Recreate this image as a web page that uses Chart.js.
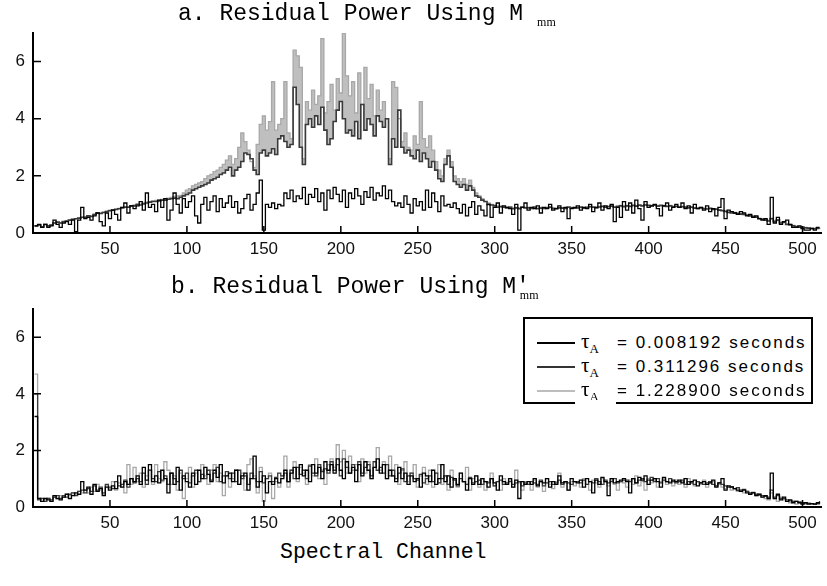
<!DOCTYPE html>
<html>
<head>
<meta charset="utf-8">
<script src="https://cdn.jsdelivr.net/npm/chart.js@4.4.1/dist/chart.umd.min.js"></script>
<style>
  body { margin: 0; background: #fff; width: 827px; height: 586px; position: relative; overflow: hidden; }
  canvas { position: absolute; left: 0; }
  .txt { position: absolute; font-family: "Liberation Mono", "Courier New", monospace; font-size: 23px; line-height: 23px; color: #000; white-space: pre; }
  .txt sub { font-family: "Liberation Serif", serif; font-size: 12px; vertical-align: -6px; line-height: 0; }
  #legend { position: absolute; left: 523px; top: 317px; width: 286px; height: 83px; border: 2px solid #000; background: #fff; }
  .row { position: absolute; left: 0; height: 20px; width: 286px; }
  .sample { position: absolute; left: 12px; top: 10px; width: 38px; height: 1.5px; }
  .tau { position: absolute; left: 56px; top: -3px; font-family: "Liberation Serif", serif; font-size: 21px; }
  .tau sub { font-size: 13px; vertical-align: -5px; line-height: 0; }
  .val { position: absolute; left: 92px; top: 1px; font-family: "Liberation Sans", Arial, sans-serif; font-size: 17px; letter-spacing: 2px; white-space: pre; }
  #patch { position: absolute; left: 575px; top: 400px; width: 41px; height: 6px; background: #fff; }
</style>
</head>
<body>
<canvas id="chartA" width="827" height="262" style="top:0px"></canvas>
<canvas id="chartB" width="827" height="262" style="top:276px"></canvas>

<div class="txt" style="left:178px; top:3px">a. Residual Power Using M<sub style="margin-left:14px">mm</sub></div>
<div class="txt" style="left:171px; top:276px">b. Residual Power Using M′<sub style="margin-left:-10px">mm</sub></div>
<div class="txt" style="left:280px; top:541px; font-size:21.5px">Spectral Channel</div>

<div id="legend"></div>
<div id="patch"></div>

<script>
// spectral channels (every other channel of 512)
const channels = Array.from({ length: 256 }, (_, i) => 2 * i + 1);
const xTicks = [50, 100, 150, 200, 250, 300, 350, 400, 450, 500];
const yTicks = [0, 2, 4, 6];

const tauValues = ["0.008192", "0.311296", "1.228900"];
const seriesColors = ["#000000", "#3a3a3a", "#a8a8a8"];
const legendColors = ["#000000", "#333333", "#bdbdbd"];

// panel a - residual power using M_mm
const aFast = [
  0.25,0.3,0.2,0.3,0.2,0.25,0.45,0.3,0.2,0.35,0.4,0.3,0.45,0.05,0.45,0.9,
  0.5,0.55,0.45,0.6,0.7,0.4,0.25,0.7,0.5,0.8,0.65,0.45,0.9,1.05,0.7,0.95,
  0.85,0.95,1.1,0.8,1.4,0.9,1.0,0.75,1.15,0.9,1.2,0.45,0.8,1.4,1.0,0.7,
  1.2,0.9,1.1,1.3,0.6,0.35,1.0,1.25,0.8,1.1,1.3,0.75,1.2,0.9,1.05,1.3,
  0.9,1.1,0.7,0.85,1.2,1.35,0.8,1.0,1.4,1.85,0.1,1.0,0.9,1.05,0.85,1.0,
  0.95,1.4,1.2,1.5,1.1,1.3,1.2,1.6,1.0,1.35,1.25,1.55,1.1,1.4,0.8,1.5,
  1.2,1.6,1.35,1.1,1.5,0.9,1.4,1.2,1.55,1.3,1.0,1.45,1.25,1.6,1.15,1.4,
  1.3,1.65,1.2,1.5,1.1,0.95,1.05,0.9,1.3,1.0,0.7,1.2,0.95,1.1,0.8,1.5,
  0.9,1.4,1.1,0.75,1.3,0.95,1.0,0.9,1.05,0.85,0.7,1.0,0.6,0.9,1.1,0.65,
  0.95,0.8,0.6,1.0,0.55,0.9,1.05,0.7,0.95,0.9,0.85,0.65,1.0,0.1,0.9,1.05,
  0.8,0.9,0.85,0.95,0.7,0.9,0.85,1.0,0.8,0.85,0.95,0.75,0.9,0.5,0.85,0.9,
  0.95,0.8,0.9,0.85,1.0,0.75,0.9,1.05,0.8,0.95,0.85,1.0,0.4,0.9,0.55,1.1,
  0.8,1.05,0.7,1.15,0.85,0.45,1.1,0.9,0.95,1.0,0.85,0.6,0.95,1.05,0.8,0.9,
  1.0,0.9,1.05,0.85,0.95,0.7,1.0,0.85,0.9,0.8,0.95,0.75,0.85,0.6,0.9,1.2,
  0.5,0.8,0.75,0.7,0.65,0.75,0.7,0.6,0.65,0.55,0.6,0.5,0.45,0.5,0.3,1.25,
  0.35,0.55,0.3,0.4,0.45,0.3,0.2,0.2,0.25,0.15,0.1,0.1,0.15,0.1,0.2,0.2
];
const aMid = [
  0.25,0.28,0.22,0.3,0.25,0.28,0.35,0.38,0.35,0.4,0.42,0.45,0.48,0.5,0.52,0.55,
  0.55,0.6,0.58,0.65,0.7,0.68,0.72,0.75,0.78,0.8,0.82,0.85,0.88,0.9,0.9,0.95,
  0.95,1.0,0.98,1.02,1.05,1.08,1.1,1.1,1.12,1.15,1.15,1.18,1.2,1.22,1.2,1.25,
  1.3,1.35,1.4,1.5,1.55,1.6,1.65,1.7,1.75,1.85,1.9,1.95,2.05,2.1,2.2,2.3,
  2.0,2.2,2.3,2.5,2.8,2.75,2.6,2.2,2.05,2.8,2.9,2.7,2.8,2.95,2.75,3.3,
  3.4,3.2,3.0,3.1,5.1,4.5,3.0,2.4,3.8,4.0,3.7,4.1,3.8,4.4,3.6,3.1,
  3.3,3.9,4.3,4.6,4.0,3.5,3.6,3.4,3.9,3.3,4.5,3.6,4.0,3.8,3.4,4.1,
  3.9,3.7,4.0,2.4,3.3,3.0,4.3,3.0,2.8,2.9,2.7,2.6,2.9,2.5,2.8,2.6,
  2.3,2.5,2.2,1.9,1.8,2.4,2.7,2.3,1.8,1.7,1.6,1.7,1.5,1.65,1.5,1.3,
  1.25,1.15,1.1,1.0,0.98,0.95,0.9,0.92,0.9,0.88,0.9,0.85,0.88,0.85,0.9,0.88,
  0.88,0.86,0.9,0.85,0.87,0.86,0.88,0.9,0.86,0.85,0.88,0.87,0.86,0.9,0.88,0.87,
  0.88,0.9,0.87,0.89,0.92,0.9,0.88,0.91,0.93,0.9,0.92,0.94,0.9,0.93,0.95,0.92,
  0.95,0.93,0.96,0.94,0.97,0.95,0.98,0.96,0.95,0.97,0.94,0.96,0.95,0.93,0.95,0.92,
  0.93,0.9,0.92,0.9,0.88,0.9,0.87,0.86,0.88,0.85,0.84,0.86,0.82,0.83,0.8,0.78,
  0.75,0.72,0.7,0.7,0.68,0.66,0.65,0.62,0.6,0.58,0.55,0.5,0.48,0.45,0.42,0.5,
  0.4,0.45,0.35,0.38,0.3,0.28,0.25,0.22,0.2,0.2,0.18,0.17,0.16,0.15,0.16,0.15
];
const aSlow = [
  0.25,0.28,0.22,0.3,0.25,0.28,0.35,0.38,0.35,0.4,0.42,0.45,0.48,0.5,0.52,0.55,
  0.56,0.6,0.6,0.66,0.7,0.7,0.73,0.76,0.8,0.82,0.84,0.86,0.9,0.92,0.92,0.96,
  0.98,1.02,1.0,1.05,1.08,1.1,1.12,1.14,1.15,1.18,1.2,1.22,1.25,1.28,1.3,1.32,
  1.4,1.5,1.55,1.65,1.7,1.75,1.8,1.9,2.0,2.05,2.15,2.2,2.3,2.4,2.55,2.7,
  2.4,2.6,3.0,3.5,3.2,2.9,2.5,2.3,3.1,3.8,4.1,3.6,3.9,5.3,3.6,3.8,
  4.0,5.3,3.5,3.3,6.4,6.2,5.8,2.6,4.6,4.3,5.0,4.5,4.8,6.8,4.2,4.6,
  5.2,4.3,5.4,4.9,7.0,5.5,4.8,5.3,4.2,5.6,4.5,5.8,4.7,5.2,4.1,5.0,
  4.3,4.6,4.0,2.6,5.3,5.1,4.0,3.2,3.5,3.0,2.9,3.4,3.1,4.6,3.3,3.0,
  3.4,2.9,2.5,2.2,2.0,2.6,2.9,2.5,2.0,1.9,1.8,1.9,1.7,1.85,1.6,1.4,
  1.3,1.2,1.1,1.05,1.0,0.98,0.95,0.95,0.92,0.9,0.92,0.88,0.9,0.88,0.92,0.9,
  0.9,0.88,0.92,0.87,0.9,0.88,0.9,0.92,0.88,0.87,0.9,0.89,0.88,0.92,0.9,0.89,
  0.9,0.92,0.89,0.91,0.94,0.92,0.9,0.93,0.95,0.92,0.94,0.96,0.92,0.95,0.97,0.94,
  0.97,0.95,0.98,0.96,0.99,0.97,1.0,0.98,0.97,0.99,0.96,0.98,0.97,0.95,0.97,0.94,
  0.95,0.92,0.94,0.92,0.9,0.92,0.89,0.88,0.9,0.87,0.86,0.88,0.84,0.85,0.82,0.8,
  0.77,0.74,0.72,0.72,0.7,0.68,0.67,0.64,0.62,0.6,0.57,0.52,0.5,0.47,0.44,0.52,
  0.42,0.47,0.37,0.4,0.32,0.3,0.27,0.24,0.22,0.22,0.2,0.19,0.18,0.17,0.18,0.17
];

// panel b - residual power using M'_mm
const bFast = [
  3.2,0.3,0.2,0.3,0.25,0.2,0.4,0.3,0.25,0.35,0.45,0.3,0.4,0.5,0.45,0.9,
  0.6,0.7,0.45,0.8,0.55,0.65,0.4,0.7,0.6,0.75,0.65,1.1,0.7,0.9,0.8,1.0,
  0.9,1.1,0.8,1.4,0.95,1.5,0.9,1.1,0.85,1.3,1.0,0.5,1.2,0.8,1.4,0.6,
  1.1,0.9,0.7,1.2,0.8,1.3,1.0,1.4,1.15,0.9,1.3,1.05,1.5,0.85,1.1,1.2,
  0.9,1.3,0.8,1.1,1.2,0.6,1.0,1.8,0.7,0.9,1.1,0.5,0.9,0.8,1.0,0.85,
  1.0,1.3,0.9,1.2,1.4,1.0,1.5,1.1,1.3,0.9,1.5,1.2,1.4,1.0,1.6,1.3,
  1.5,1.2,1.7,1.3,1.0,1.6,1.2,1.4,0.9,1.5,1.1,1.6,1.3,1.0,1.4,1.7,
  1.2,1.5,1.0,1.3,1.1,0.9,1.4,1.0,1.2,0.8,1.1,0.9,1.0,0.7,1.2,1.1,
  0.9,1.3,0.8,1.0,1.5,0.9,1.1,0.7,1.0,0.8,1.2,0.9,0.6,1.0,0.8,1.1,
  0.8,1.0,0.9,0.7,1.0,0.85,0.6,1.1,0.9,0.8,1.0,0.7,0.95,0.3,0.9,0.8,
  0.9,0.8,1.0,0.75,0.9,0.85,1.0,0.7,0.9,0.8,1.1,0.85,0.9,0.6,1.0,0.9,
  0.85,0.95,0.7,1.0,0.9,0.5,0.95,0.8,1.05,0.9,0.4,1.0,0.85,0.9,0.95,1.0,
  0.9,0.5,1.0,0.85,1.05,0.95,1.1,0.8,0.95,1.0,0.9,0.7,1.05,0.9,0.85,0.95,
  0.9,0.95,0.85,1.0,0.8,0.9,0.95,0.75,0.85,0.9,0.8,0.85,0.95,0.7,0.85,1.0,
  0.6,0.75,0.7,0.65,0.6,0.55,0.6,0.5,0.45,0.5,0.4,0.45,0.35,0.4,0.3,1.2,
  0.3,0.45,0.25,0.35,0.2,0.25,0.15,0.2,0.15,0.1,0.15,0.1,0.12,0.1,0.15,0.2
];
const bMid = [
  4.0,0.25,0.3,0.2,0.3,0.25,0.35,0.4,0.3,0.4,0.35,0.45,0.5,0.4,0.55,0.6,
  0.5,0.65,0.55,0.75,0.6,0.7,0.5,0.8,0.7,0.65,0.9,0.75,0.8,0.95,0.7,1.0,
  0.85,1.0,0.9,1.2,0.8,1.3,1.0,0.9,1.25,0.95,1.1,0.8,1.2,1.0,0.9,1.3,
  1.0,1.2,0.85,1.1,1.3,0.9,1.15,1.0,1.3,0.95,1.2,1.4,0.9,1.1,1.25,1.0,
  1.2,0.9,1.3,1.0,1.1,0.8,1.2,1.0,0.9,1.25,0.85,1.0,1.1,0.9,1.05,1.2,
  1.1,1.2,0.9,1.3,1.0,1.4,1.15,1.3,1.0,1.45,1.2,1.1,1.5,1.25,1.35,1.2,
  1.6,1.3,1.5,1.1,1.7,1.4,1.2,1.5,1.3,1.6,1.2,1.4,1.5,1.1,1.6,1.3,
  1.4,1.2,1.5,1.1,1.3,1.0,1.2,1.35,0.9,1.1,1.2,1.0,0.95,1.15,0.85,1.0,
  1.1,0.9,1.2,0.85,1.0,1.1,0.8,1.05,0.95,0.75,1.0,0.9,0.8,1.05,0.85,0.9,
  0.95,0.8,0.9,0.85,1.0,0.75,0.9,0.95,0.8,0.85,0.9,0.8,0.85,0.9,0.75,0.85,
  0.8,0.9,0.85,0.8,0.95,0.75,0.85,0.9,0.8,0.85,0.95,0.8,0.9,0.85,0.8,0.9,
  0.9,0.85,0.95,0.8,0.9,0.85,1.0,0.9,0.8,0.95,0.85,0.9,1.0,0.85,0.9,0.95,
  0.95,0.9,1.0,0.85,0.95,1.0,0.9,0.95,1.05,0.9,1.0,0.85,0.95,0.9,1.0,0.9,
  0.85,0.9,0.95,0.8,0.9,0.85,0.8,0.9,0.85,0.8,0.85,0.9,0.8,0.75,0.85,0.8,
  0.75,0.7,0.72,0.65,0.68,0.6,0.62,0.55,0.5,0.52,0.45,0.42,0.4,0.38,0.35,0.6,
  0.35,0.4,0.3,0.3,0.25,0.22,0.2,0.2,0.18,0.15,0.15,0.12,0.12,0.1,0.12,0.15
];
const bSlow = [
  4.7,0.3,0.2,0.25,0.3,0.2,0.35,0.3,0.4,0.35,0.45,0.4,0.5,0.45,0.55,0.5,
  0.6,0.5,0.7,0.55,0.8,0.6,0.45,0.75,0.65,0.9,0.6,0.85,0.7,0.5,1.5,0.8,
  1.4,0.9,1.2,0.7,1.1,1.3,0.8,1.5,1.0,0.9,1.6,1.3,0.8,1.1,0.6,1.2,
  0.3,1.0,1.4,0.7,1.2,0.9,1.5,1.1,0.8,1.3,1.5,0.9,1.2,0.4,1.1,0.7,
  1.0,1.3,0.8,1.2,0.6,1.5,1.7,1.1,0.5,1.4,0.2,1.0,1.2,0.3,0.9,0.7,
  1.1,1.8,0.7,1.3,1.6,0.9,1.4,1.2,0.8,1.5,1.1,1.7,1.0,1.3,0.8,1.5,
  1.7,1.4,2.2,1.6,2.0,1.2,1.8,1.3,1.5,0.9,1.7,1.2,1.6,1.0,1.4,2.1,
  1.3,1.6,1.0,1.8,1.1,1.5,0.8,1.3,1.6,0.9,1.2,1.5,0.7,1.1,1.4,0.8,
  1.3,0.7,1.2,1.5,0.8,1.1,0.6,1.3,1.0,0.7,1.2,0.9,1.4,0.6,1.0,1.1,
  0.7,1.0,0.6,0.9,1.2,0.75,0.9,0.6,1.0,0.8,0.95,0.7,1.3,0.85,0.6,0.9,
  0.8,0.6,0.95,0.7,0.9,0.55,1.0,0.8,0.65,0.9,1.2,0.7,0.85,0.6,0.9,0.75,
  0.9,0.7,1.0,0.8,0.6,0.95,0.85,0.7,1.0,0.9,0.75,0.95,0.8,0.6,0.9,0.85,
  0.7,0.95,0.8,1.1,0.75,0.9,0.6,1.0,0.85,0.95,0.7,0.9,1.0,0.8,0.9,0.75,
  0.95,0.8,0.9,0.7,1.0,0.85,0.75,0.9,0.8,0.95,0.7,0.85,0.9,0.75,0.8,0.7,
  0.65,0.7,0.6,0.65,0.55,0.6,0.5,0.55,0.45,0.5,0.4,0.45,0.35,0.3,0.25,0.5,
  0.3,0.2,0.35,0.25,0.2,0.15,0.2,0.1,0.15,0.12,0.1,0.15,0.1,0.12,0.1,0.15
];

// legend (tau with subscript A needs html)
const legend = document.getElementById("legend");
tauValues.forEach((tau, i) => {
  const row = document.createElement("div");
  row.className = "row";
  row.style.top = (13 + i * 24) + "px";
  row.innerHTML =
    '<div class="sample" style="background:' + legendColors[i] + '"></div>' +
    '<span class="tau">τ<sub>A</sub></span>' +
    '<span class="val">= ' + tau + ' seconds</span>';
  legend.appendChild(row);
});

// matlab style ticks pointing into the plot
const innerTicks = {
  id: "innerTicks",
  afterDatasetsDraw(chart) {
    const { ctx, chartArea, scales } = chart;
    ctx.save();
    ctx.strokeStyle = "#000";
    ctx.lineWidth = 1.5;
    ctx.beginPath();
    scales.x.ticks.forEach((t) => {
      const px = scales.x.getPixelForValue(t.value);
      ctx.moveTo(px, chartArea.bottom);
      ctx.lineTo(px, chartArea.bottom - 7);
    });
    scales.y.ticks.forEach((t) => {
      const py = scales.y.getPixelForValue(t.value);
      ctx.moveTo(chartArea.left, py);
      ctx.lineTo(chartArea.left + 8, py);
    });
    ctx.stroke();
    ctx.restore();
  },
};

// bandFill: fill the slow series down to the mid one (dense per-channel jitter reads as a band)
function makePanel(id, series, xAxisHeight, bandFill) {
  const datasets = series.map((values, i) => ({
    data: values.map((v, j) => ({ x: channels[j], y: v })),
    borderColor: seriesColors[i],
    borderWidth: i === 1 && bandFill ? 1.6 : 1.3,
    pointRadius: 0,
    stepped: true,
    fill: i === 2 && bandFill ? { target: 1, above: "rgba(170,170,170,0.75)", below: "rgba(0,0,0,0)" } : false,
  }));

  return new Chart(document.getElementById(id), {
    type: "line",
    data: { datasets },
    options: {
      responsive: false,
      animation: false,
      events: [],
      layout: { padding: { top: 33, right: 6, left: 0, bottom: 0 } },
      plugins: { legend: { display: false }, tooltip: { enabled: false } },
      scales: {
        x: {
          type: "linear",
          min: 0,
          max: 512,
          grid: { display: false, drawTicks: false },
          border: { display: true, color: "#000", width: 2 },
          afterBuildTicks: (s) => { s.ticks = xTicks.map((v) => ({ value: v })); },
          afterFit: (s) => { s.height = xAxisHeight; },
          ticks: { color: "#111", padding: 6, maxRotation: 0, font: { family: "Liberation Sans", size: 17 } },
        },
        y: {
          min: 0,
          max: 7,
          grid: { display: false, drawTicks: false },
          border: { display: true, color: "#000", width: 2 },
          afterBuildTicks: (s) => { s.ticks = yTicks.map((v) => ({ value: v })); },
          afterFit: (s) => { s.width = 33; },
          ticks: { color: "#111", padding: 8, font: { family: "Liberation Sans", size: 17 } },
        },
      },
    },
    plugins: [innerTicks],
  });
}

makePanel("chartA", [aFast, aMid, aSlow], 29, true);
makePanel("chartB", [bFast, bMid, bSlow], 31, false);
</script>
</body>
</html>
